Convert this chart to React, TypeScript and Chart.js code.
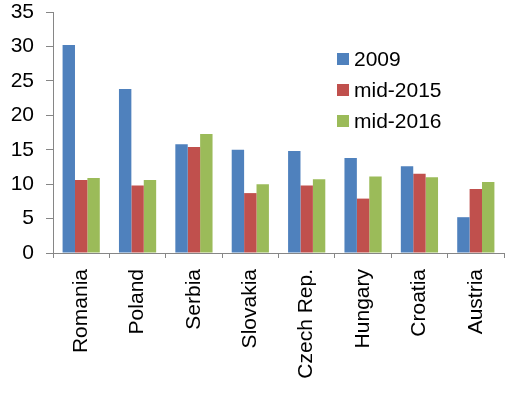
import React, { useEffect, useRef } from "react";
import { Chart, registerables } from "chart.js";

Chart.register(...registerables);

const categories = ["Romania", "Poland", "Serbia", "Slovakia", "Czech Rep.", "Hungary", "Croatia", "Austria"];
const series2009 = [30.2, 23.8, 15.8, 15.0, 14.8, 13.8, 12.6, 5.2];
const seriesMid2015 = [10.6, 9.8, 15.4, 8.7, 9.8, 7.9, 11.5, 9.3];
const seriesMid2016 = [10.9, 10.6, 17.3, 10.0, 10.7, 11.1, 11.0, 10.3];
const seriesLabels = ["2009", "mid-2015", "mid-2016"];
const seriesColors = ["#4F81BD", "#C0504D", "#9BBB59"];
const yTicks = [0, 5, 10, 15, 20, 25, 30, 35];

const FONT = "'Liberation Sans', Arial, sans-serif";

const insideLegend = {
  id: "insideLegend",
  afterDraw(chart: any, _args: any, opts: any) {
    const ctx = chart.ctx;
    ctx.save();
    ctx.font = `${opts.fontSize}px ${FONT}`;
    ctx.textBaseline = "middle";
    ctx.textAlign = "left";
    chart.data.datasets.forEach((ds: any, i: number) => {
      const cy = opts.y + i * opts.spacing;
      ctx.fillStyle = ds.backgroundColor;
      ctx.fillRect(opts.x, cy - opts.box / 2, opts.box, opts.box);
      ctx.fillStyle = "#000";
      ctx.fillText(ds.label, opts.x + opts.box + 5, cy + 1);
    });
    ctx.restore();
  },
};

export default function App() {
  const ref = useRef<HTMLCanvasElement>(null);
  useEffect(() => {
    document.body.style.margin = "0";
    const chart = new Chart(ref.current!, {
      type: "bar",
      data: {
        labels: categories,
        datasets: [series2009, seriesMid2015, seriesMid2016].map((d, i) => ({
          label: seriesLabels[i],
          data: d,
          backgroundColor: seriesColors[i],
          borderWidth: 0,
          categoryPercentage: 0.66,
          barPercentage: 1,
        })),
      },
      options: {
        animation: false,
        responsive: false,
        maintainAspectRatio: false,
        layout: { padding: { left: 0, right: 5, top: 12, bottom: 0 } },
        plugins: {
          legend: { display: false },
          tooltip: { enabled: false },
          insideLegend: { x: 337, y: 59, spacing: 31, box: 12, fontSize: 21 },
        } as any,
        scales: {
          x: {
            afterFit: (axis: any) => {
              axis.height = 141;
              axis.paddingLeft = 0;
              axis.paddingRight = 0;
            },
            grid: {
              display: true,
              drawOnChartArea: false,
              offset: true,
              tickLength: 5,
              color: "#868686",
            },
            border: { color: "#868686" },
            ticks: {
              font: { family: FONT, size: 21 },
              color: "#000",
              minRotation: 90,
              maxRotation: 90,
              padding: 11,
              autoSkip: false,
            },
          },
          y: {
            min: 0,
            max: 35,
            afterBuildTicks: (axis: any) => {
              axis.ticks = yTicks.map((v) => ({ value: v }));
            },
            afterFit: (axis: any) => {
              axis.width = 53;
              axis.paddingTop = 0;
              axis.paddingBottom = 0;
            },
            grid: {
              display: true,
              drawOnChartArea: false,
              tickLength: 7,
              color: "#868686",
            },
            border: { color: "#868686" },
            ticks: {
              font: { family: FONT, size: 21 },
              color: "#000",
              padding: 12,
            },
          },
        },
      },
      plugins: [insideLegend],
    });
    return () => chart.destroy();
  }, []);
  return (
    <div style={{ position: "relative", width: 509, height: 394 }}>
      <canvas ref={ref} width={509} height={394} style={{ display: "block" }} />
    </div>
  );
}
